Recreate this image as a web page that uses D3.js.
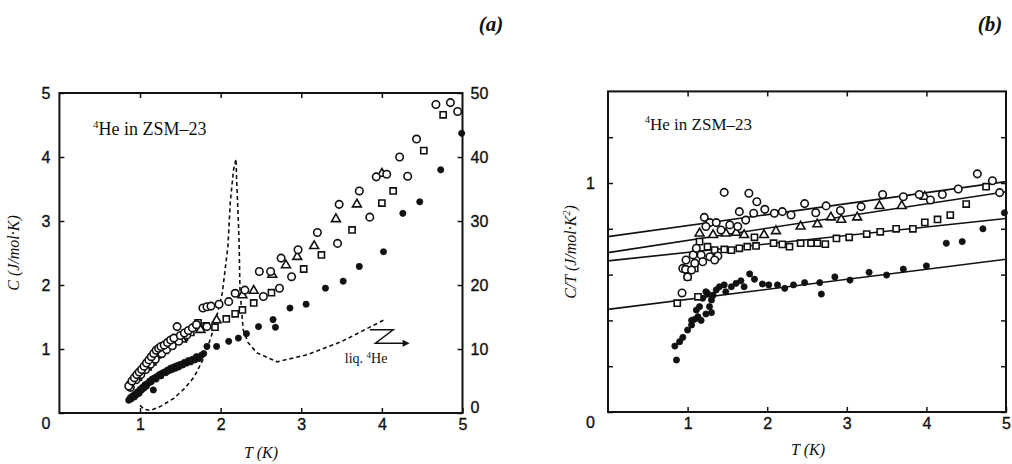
<!DOCTYPE html>
<html>
<head>
<meta charset="utf-8">
<script src="https://cdn.jsdelivr.net/npm/d3@7"></script>
<style>
  body { margin: 0; background: #fff; }
  svg { display: block; }
  .tick text { font-family: "Liberation Sans", Arial, sans-serif; font-size: 16px; fill: #111; stroke: #111; stroke-width: 0.35; }
  .tick line { stroke: #111; stroke-width: 1.5; }
  .serif { font-family: "Liberation Serif", "Times New Roman", serif; fill: #111; }
</style>
</head>
<body>
<div id="chart"></div>
<script>
(function() {
  // ---- panel (a): C vs T, right axis for bulk liquid 4He (x10) ----
  var aCirc = [[0.86,0.42],[0.90,0.50],[0.93,0.55],[0.96,0.60],[0.99,0.64],[1.02,0.68],[1.05,0.73],[1.08,0.78],
    [1.11,0.83],[1.14,0.88],[1.17,0.93],[1.20,0.98],[1.23,1.01],[1.26,1.04],[1.30,1.06],[1.34,1.10],[1.38,1.14],
    [1.42,1.17],[1.46,1.35],[1.50,1.21],[1.55,1.25],[1.60,1.29],[1.65,1.33],[1.70,1.38],[1.78,1.64],[1.83,1.66],
    [1.88,1.67],[1.98,1.70],[2.10,1.74],[2.18,1.87],[2.30,1.92],[2.48,2.21],[2.62,2.21],[2.75,2.42],[2.96,2.55],
    [3.20,2.82],[3.47,3.26],[3.72,3.47],[3.93,3.69],[4.06,3.73],[4.22,4.00],[4.43,4.28],[4.67,4.82],[4.85,4.85],[4.94,4.71]];
  var aCirc2 = [[0.88,0.40],[0.95,0.52],[1.01,0.60],[1.07,0.68],[1.13,0.76],[1.19,0.84],[1.27,0.93],[1.33,0.99],
    [1.40,1.05],[1.48,1.12],[1.58,1.22],[1.70,1.375],[1.83,1.35],[2.53,1.82],[2.73,1.95],[2.88,2.13],[3.45,2.65],
    [3.85,3.06],[4.32,3.70]];
  var aTri = [[1.20,0.90],[1.36,1.04],[1.52,1.15],[1.75,1.30],[1.95,1.45],[2.27,1.84],[2.41,1.91],[2.64,2.16],
    [2.81,2.31],[2.95,2.44],[3.16,2.61],[3.43,3.03],[3.69,3.26],[4.00,3.74]];
  var aSq = [[0.88,0.44],[0.98,0.56],[1.10,0.72],[1.16,0.80],[1.25,0.92],[1.31,0.98],[1.40,1.07],[1.55,1.18],
    [1.63,1.26],[1.72,1.41],[1.82,1.36],[1.93,1.34],[2.07,1.47],[2.18,1.55],[2.27,1.61],[2.41,1.72],[2.63,1.88],
    [3.03,2.25],[3.25,2.47],[3.63,2.86],[4.00,3.28],[4.14,3.47],[4.52,4.10],[4.76,4.66]];
  var aFilled = [[0.86,0.20],[0.88,0.24],[0.91,0.27],[0.94,0.30],[0.97,0.33],[1.00,0.37],[1.03,0.40],[1.06,0.44],
    [1.09,0.46],[1.12,0.50],[1.165,0.36],[1.15,0.53],[1.18,0.55],[1.21,0.57],[1.24,0.60],[1.27,0.62],[1.30,0.64],
    [1.34,0.67],[1.38,0.70],[1.42,0.72],[1.46,0.74],[1.50,0.76],[1.55,0.79],[1.60,0.82],[1.65,0.84],[1.70,0.88],
    [1.76,0.90],[1.83,1.04],[1.95,1.04],[2.10,1.12],[2.22,1.17],[2.32,1.24],[2.47,1.35],[2.68,1.34],[2.65,1.46],
    [2.86,1.64],[3.06,1.70],[3.30,1.95],[3.52,2.06],[3.72,2.29],[4.02,2.52],[4.26,3.12],[4.47,3.30],[4.73,3.80],[4.99,4.37],
    [0.89,0.22],[0.93,0.25],[0.96,0.29],[0.99,0.31],[1.02,0.36],[1.05,0.39],[1.08,0.42],[1.11,0.47],[1.14,0.49],
    [1.20,0.53],[1.26,0.58],[1.32,0.63],[1.36,0.66],[1.40,0.68],[1.44,0.70],[1.48,0.72],[1.53,0.75],[1.58,0.78],
    [1.63,0.80],[1.68,0.83],[1.73,0.85],[1.79,0.93]];
  // bulk liquid 4He, right-axis units
  var aBulk = [[1.00,1.2],[1.05,0.6],[1.13,0.4],[1.25,1.0],[1.42,2.3],[1.55,3.8],[1.67,5.6],[1.80,8.8],[1.92,13.4],
    [2.02,18.7],[2.09,26],[2.12,33],[2.16,38],[2.19,39.7],[2.20,36],[2.22,30],[2.23,26],[2.24,19.2],[2.28,13],
    [2.34,11],[2.45,9.4],[2.70,8.0],[3.07,9.1],[3.49,11.1],[4.02,14.5]];

  // ---- panel (b): C/T vs T ----
  var bCirc = [[0.93,0.52],[0.94,0.627],[0.975,0.623],[0.98,0.664],[1.0,0.59],[1.05,0.62],[1.07,0.686],[1.09,0.65],
    [1.11,0.715],[1.17,0.686],[1.19,0.656],[1.28,0.678],[1.38,0.681],[1.34,0.664],[1.21,0.85],[1.28,0.827],
    [1.36,0.827],[1.23,0.81],[1.42,0.795],[1.53,0.817],[1.63,0.81],[1.73,0.838],[1.46,0.959],[1.65,0.875],
    [1.77,0.955],[1.83,0.868],[1.87,0.918],[1.97,0.885],[2.09,0.868],[2.19,0.875],[2.30,0.86],[2.47,0.91],
    [2.61,0.87],[2.74,0.90],[2.92,0.88],[3.18,0.897],[3.45,0.95],[3.71,0.94],[3.91,0.95],[4.05,0.926],[4.20,0.95],
    [4.40,0.974],[4.64,1.04],[4.83,1.01],[4.92,0.958]];
  var bTri = [[1.15,0.78],[1.32,0.773],[1.48,0.78],[1.61,0.783],[1.71,0.773],[1.96,0.773],[2.11,0.79],[2.42,0.81],
    [2.63,0.82],[2.80,0.85],[2.93,0.84],[3.13,0.85],[3.41,0.90],[3.69,0.90],[3.98,0.94]];
  var bSq = [[0.87,0.475],[1.0,0.59],[1.13,0.503],[1.09,0.627],[1.15,0.744],[1.25,0.722],[1.34,0.707],[1.46,0.71],
    [1.55,0.707],[1.65,0.715],[1.75,0.722],[1.84,0.763],[1.86,0.725],[2.08,0.737],[2.19,0.732],[2.28,0.722],
    [2.42,0.737],[2.55,0.737],[2.63,0.737],[2.73,0.733],[2.87,0.758],[3.03,0.763],[3.25,0.777],[3.42,0.787],
    [3.62,0.80],[3.83,0.80],[3.98,0.828],[4.14,0.841],[4.30,0.86],[4.50,0.908],[4.75,0.984]];
  var bFilled = [[0.86,0.227],[0.84,0.288],[0.90,0.307],[0.94,0.326],[1.00,0.358],[1.05,0.38],[1.05,0.40],
    [1.09,0.405],[1.13,0.416],[1.17,0.40],[1.23,0.428],[1.30,0.434],[1.275,0.46],[1.11,0.445],[1.15,0.46],
    [1.19,0.497],[1.25,0.518],[1.23,0.525],[1.30,0.489],[1.32,0.51],[1.36,0.533],[1.40,0.547],[1.46,0.555],
    [1.48,0.525],[1.55,0.547],[1.61,0.562],[1.67,0.573],[1.71,0.547],[1.78,0.603],[1.84,0.58],[1.94,0.559],
    [2.02,0.555],[2.13,0.555],[2.22,0.54],[2.33,0.555],[2.47,0.565],[2.66,0.565],[2.68,0.515],[2.85,0.59],
    [3.04,0.576],[3.28,0.61],[3.50,0.598],[3.71,0.624],[4.00,0.638],[4.25,0.737],[4.45,0.744],[4.71,0.80],[4.98,0.87]];
  var bFits = [
    [[0, 0.766], [5, 1.006]],
    [[0, 0.696], [5, 0.962]],
    [[0, 0.660], [5, 0.845]],
    [[0, 0.448], [5, 0.667]]
  ];

  var xTicks = [1, 2, 3, 4, 5];
  var aLeftTicks = [0, 1, 2, 3, 4, 5];
  var aRightTicks = [0, 10, 20, 30, 40, 50];
  var bTicks = [0, 0.2, 0.4, 0.6, 0.8, 1.0, 1.2];

  var svg = d3.select('#chart')
            .append('svg')
            .attr('width', 1012)
            .attr('height', 464);

  svg.append('rect').attr('width', 1012).attr('height', 464).attr('fill', '#fff');

  function cleanAxis(g) {
    g.select('.domain').remove();
  }

  function drawMarkers(g, data, x, y, shape, filled) {
    var sel = g.append('g').selectAll('path').data(data).enter().append('path');
    var sym = d3.symbol().type(shape).size(shape === d3.symbolCircle ? (filled ? 30 : 44) :
                                            shape === d3.symbolSquare ? 38 : 34);
    sel.attr('d', sym)
      .attr('transform', function(d) { return 'translate(' + x(d[0]) + ',' + y(d[1]) + ')'; })
      .attr('fill', filled ? '#111' : '#fff')
      .attr('stroke', '#111')
      .attr('stroke-width', filled ? 0.8 : 1.6);
  }

  // ================= panel (a) =================
  var xa = d3.scaleLinear().domain([0, 5]).range([59.4, 462.5]);
  var ya = d3.scaleLinear().domain([0, 5]).range([413, 93]);
  var yaR = d3.scaleLinear().domain([0, 50]).range([413, 93]);
  var ga = svg.append('g');

  ga.append('path')
    .datum(aBulk)
    .attr('d', d3.line().x(function(d) { return xa(d[0]); }).y(function(d) { return yaR(d[1]); }))
    .attr('fill', 'none')
    .attr('stroke', '#111')
    .attr('stroke-width', 1.6)
    .attr('stroke-dasharray', '4,3');

  drawMarkers(ga, aFilled, xa, ya, d3.symbolCircle, true);
  drawMarkers(ga, aSq, xa, ya, d3.symbolSquare, false);
  drawMarkers(ga, aTri, xa, ya, d3.symbolTriangle, false);
  drawMarkers(ga, aCirc2, xa, ya, d3.symbolCircle, false);
  drawMarkers(ga, aCirc, xa, ya, d3.symbolCircle, false);

  ga.append('g').attr('transform', 'translate(0,413)')
    .call(d3.axisBottom(xa).tickValues(xTicks).tickSize(-5).tickPadding(6).tickFormat(d3.format('d')))
    .call(cleanAxis);
  ga.append('g').attr('transform', 'translate(0,93)')
    .call(d3.axisTop(xa).tickValues([1, 2, 3, 4]).tickSize(-5).tickFormat(''))
    .call(cleanAxis);
  var leftA = ga.append('g').attr('transform', 'translate(59.4,0)')
    .call(d3.axisLeft(ya).tickValues(aLeftTicks).tickSize(-5).tickPadding(9).tickFormat(d3.format('d')))
    .call(cleanAxis);
  leftA.selectAll('.tick').filter(function(d) { return d === 0; }).select('text').attr('dy', '0.95em');
  var rightA = ga.append('g').attr('transform', 'translate(462.5,0)')
    .call(d3.axisRight(yaR).tickValues(aRightTicks).tickSize(-5).tickPadding(8).tickFormat(d3.format('d')))
    .call(cleanAxis);
  rightA.selectAll('.tick').filter(function(d) { return d === 0; }).select('text').attr('dy', '-0.05em');

  ga.append('rect')
    .attr('x', xa(0)).attr('y', ya(5))
    .attr('width', xa(5) - xa(0)).attr('height', ya(0) - ya(5))
    .attr('fill', 'none').attr('stroke', '#111').attr('stroke-width', 2);

  // liq. 4He arrow
  var zig = [[3.85, 13.0], [4.14, 13.0], [3.92, 10.9], [4.27, 10.9]];
  ga.append('path')
    .datum(zig)
    .attr('d', d3.line().x(function(d) { return xa(d[0]); }).y(function(d) { return yaR(d[1]); }))
    .attr('fill', 'none').attr('stroke', '#111').attr('stroke-width', 1.5);
  ga.append('path')
    .attr('d', 'M' + (xa(4.27) + 6) + ',' + yaR(10.9) + 'l-7,-3.5l0,7z')
    .attr('fill', '#111');
  ga.append('text').attr('class', 'serif')
    .attr('x', xa(3.54)).attr('y', yaR(7.8))
    .style('font-size', '14px')
    .html('liq. <tspan dy="-5" style="font-size:9px">4</tspan><tspan dy="5">He</tspan>');

  ga.append('text').attr('class', 'serif')
    .attr('x', 93).attr('y', 135)
    .style('font-size', '18px')
    .html('<tspan dy="-7" style="font-size:11px">4</tspan><tspan dy="7">He in ZSM\u201323</tspan>');

  ga.append('text').attr('class', 'serif')
    .attr('transform', 'translate(19,253) rotate(-90)')
    .attr('text-anchor', 'middle')
    .style('font-size', '16px').style('font-style', 'italic')
    .text('C (J/mol\u00b7K)');
  ga.append('text').attr('class', 'serif')
    .attr('x', 261).attr('y', 458)
    .attr('text-anchor', 'middle')
    .style('font-size', '16px').style('font-style', 'italic')
    .text('T (K)');
  ga.append('text').attr('class', 'serif')
    .attr('x', 491).attr('y', 31)
    .attr('text-anchor', 'middle')
    .style('font-size', '21px').style('font-style', 'italic').style('font-weight', 'bold')
    .text('(a)');

  // ================= panel (b) =================
  var xb = d3.scaleLinear().domain([0, 5]).range([608, 1006]);
  var yb = d3.scaleLinear().domain([0, 1.4]).range([412, 91.4]);
  var gb = svg.append('g');

  gb.selectAll('line.fit').data(bFits).enter().append('line')
    .attr('class', 'fit')
    .attr('x1', function(d) { return xb(d[0][0]); })
    .attr('y1', function(d) { return yb(d[0][1]); })
    .attr('x2', function(d) { return xb(d[1][0]); })
    .attr('y2', function(d) { return yb(d[1][1]); })
    .attr('stroke', '#111')
    .attr('stroke-width', 1.6);

  drawMarkers(gb, bFilled, xb, yb, d3.symbolCircle, true);
  drawMarkers(gb, bSq, xb, yb, d3.symbolSquare, false);
  drawMarkers(gb, bTri, xb, yb, d3.symbolTriangle, false);
  drawMarkers(gb, bCirc, xb, yb, d3.symbolCircle, false);

  gb.append('g').attr('transform', 'translate(0,412)')
    .call(d3.axisBottom(xb).tickValues(xTicks).tickSize(-5).tickPadding(6).tickFormat(d3.format('d')))
    .call(cleanAxis);
  gb.append('g').attr('transform', 'translate(0,91.4)')
    .call(d3.axisTop(xb).tickValues([1, 2, 3, 4]).tickSize(-5).tickFormat(''))
    .call(cleanAxis);
  var leftB = gb.append('g').attr('transform', 'translate(608,0)')
    .call(d3.axisLeft(yb).tickValues(bTicks).tickSize(-5).tickPadding(13)
      .tickFormat(function(d) { return d === 0 || d === 1 ? d3.format('d')(d) : ''; }))
    .call(cleanAxis);
  leftB.selectAll('.tick').filter(function(d) { return d === 0; }).select('text').attr('dy', '0.95em');
  gb.append('g').attr('transform', 'translate(1006,0)')
    .call(d3.axisRight(yb).tickValues(bTicks).tickSize(-5).tickFormat(''))
    .call(cleanAxis);

  gb.append('rect')
    .attr('x', xb(0)).attr('y', yb(1.4))
    .attr('width', xb(5) - xb(0)).attr('height', yb(0) - yb(1.4))
    .attr('fill', 'none').attr('stroke', '#111').attr('stroke-width', 2);

  gb.append('text').attr('class', 'serif')
    .attr('x', 645).attr('y', 130)
    .style('font-size', '17px')
    .html('<tspan dy="-7" style="font-size:10px">4</tspan><tspan dy="7">He in ZSM\u201323</tspan>');

  gb.append('text').attr('class', 'serif')
    .attr('transform', 'translate(576,252) rotate(-90)')
    .attr('text-anchor', 'middle')
    .style('font-size', '16px').style('font-style', 'italic')
    .html('C/T (J/mol\u00b7K<tspan dy="-6" style="font-size:10px">2</tspan><tspan dy="6">)</tspan>');
  gb.append('text').attr('class', 'serif')
    .attr('x', 808).attr('y', 455)
    .attr('text-anchor', 'middle')
    .style('font-size', '16px').style('font-style', 'italic')
    .text('T (K)');
  gb.append('text').attr('class', 'serif')
    .attr('x', 990).attr('y', 31)
    .attr('text-anchor', 'middle')
    .style('font-size', '21px').style('font-style', 'italic').style('font-weight', 'bold')
    .text('(b)');
}());
</script>
</body>
</html>
